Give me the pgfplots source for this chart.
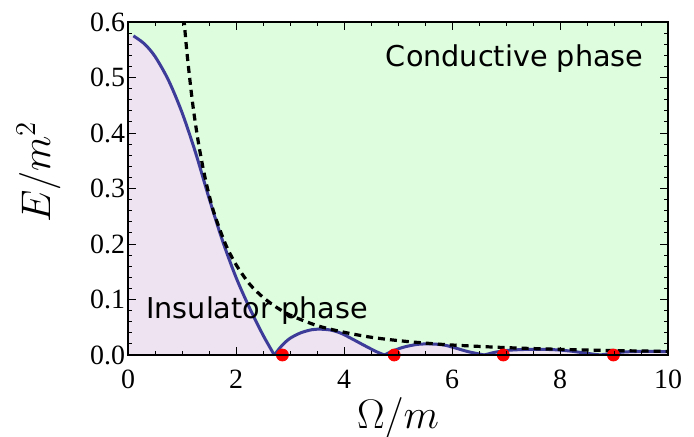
\documentclass[border=0pt]{standalone}
\usepackage{fontspec}
\setmainfont{Liberation Serif}
\newfontfamily\dejavu{DejaVu Sans}
\usepackage{pgfplots}
\pgfplotsset{compat=1.18}
\definecolor{condgreen}{RGB}{222,252,222}
\definecolor{insupink}{RGB}{238,227,240}
\definecolor{curveblue}{RGB}{61,61,153}

\begin{document}
\begin{tikzpicture}
\begin{axis}[
  set layers, axis on top,
  at={(0,0)}, anchor=south west,
  scale only axis, width=270bp, height=166.5bp,
  xmin=0, xmax=10, ymin=0, ymax=0.6,
  xtick={0,2,4,6,8,10}, ytick={0,0.1,0.2,0.3,0.4,0.5,0.6},
  minor x tick num=3, minor y tick num=4,
  tick align=inside, major tick length=4bp, minor tick length=2bp,
  tick style={black, line width=0.5bp},
  axis line style={line width=0.6bp},
  axis background/.style={fill=condgreen},
  /pgf/number format/assume math mode=true,
  ticklabel style={font=\fontsize{14}{14}\selectfont},
  yticklabel style={/pgf/number format/fixed, /pgf/number format/precision=1,
    /pgf/number format/fixed zerofill, xshift=2bp},
  xticklabel style={yshift=-4bp},
  xlabel={$\Omega/m$}, ylabel={$E/m^2$},
  xlabel style={font=\fontsize{20}{20}\selectfont, at={(axis description cs:0.5,-0.222)}, anchor=base},
  ylabel style={font=\fontsize{22}{22}\selectfont, at={(axis description cs:-0.144,0.55)}, anchor=base},
]
% insulator region under the curve
\addplot[draw=none, fill=insupink] coordinates {
  (0,0) (0,0.576) (0.1,0.575) (0.3,0.561) (0.5,0.538) (0.75,0.495) (1.0,0.437)
  (1.25,0.365) (1.5,0.283) (1.75,0.206) (2.0,0.140) (2.25,0.085) (2.5,0.036) (2.71,0)
  (2.85,0.017) (3.0,0.030) (3.2,0.040) (3.4,0.0455) (3.55,0.0465) (3.75,0.045)
  (3.95,0.039) (4.15,0.029) (4.4,0.016) (4.6,0.006) (4.75,0)
  (4.9,0.007) (5.1,0.014) (5.35,0.019) (5.6,0.020) (5.85,0.018) (6.05,0.013) (6.3,0.006) (6.6,0)
  (6.8,0.005) (7.05,0.0085) (7.35,0.010) (7.6,0.0103) (7.9,0.0095) (8.2,0.007) (8.5,0.003) (8.75,0)
  (8.95,0.003) (9.2,0.0055) (9.5,0.0065) (9.75,0.0065) (10,0.006) (10,0)
};
% gap curve
\addplot[curveblue, line width=1.5bp, smooth] coordinates {
  (0.1,0.575) (0.3,0.561) (0.5,0.538) (0.75,0.495) (1.0,0.437) (1.25,0.365)
  (1.5,0.283) (1.75,0.206) (2.0,0.140) (2.25,0.085) (2.5,0.036) (2.71,0)
};
\addplot[curveblue, line width=1.5bp, smooth] coordinates {
  (2.71,0) (2.85,0.017) (3.0,0.030) (3.2,0.040) (3.4,0.0455) (3.55,0.0465) (3.75,0.045)
  (3.95,0.039) (4.15,0.029) (4.4,0.016) (4.6,0.006) (4.75,0)
};
\addplot[curveblue, line width=1.5bp, smooth] coordinates {
  (4.75,0) (4.9,0.007) (5.1,0.014) (5.35,0.019) (5.6,0.020) (5.85,0.018) (6.05,0.013) (6.3,0.006) (6.6,0)
};
\addplot[curveblue, line width=1.5bp, smooth] coordinates {
  (6.6,0) (6.8,0.005) (7.05,0.0085) (7.35,0.010) (7.6,0.0103) (7.9,0.0095) (8.2,0.007) (8.5,0.003) (8.75,0)
};
\addplot[curveblue, line width=1.5bp, smooth] coordinates {
  (8.75,0) (8.95,0.003) (9.2,0.0055) (9.5,0.0065) (9.75,0.0065) (10,0.006)
};
% envelope
\addplot[black, line width=1.6bp, dash pattern=on 3.5bp off 2.5bp, smooth] coordinates {
  (1.0,0.65) (1.04,0.601) (1.1,0.537) (1.2,0.451) (1.3,0.385) (1.4,0.332) (1.5,0.289)
  (1.6,0.254) (1.8,0.201) (2.0,0.163) (2.25,0.128) (2.5,0.104) (2.75,0.086) (3.0,0.072)
  (3.5,0.053) (4.0,0.041) (4.5,0.032) (5.0,0.026) (5.5,0.0215) (6.0,0.018) (7.0,0.0133)
  (8.0,0.0102) (9.0,0.008) (10.0,0.0065)
};
% zeros
\addplot[only marks, mark=*, mark size=3bp, red, on layer=axis foreground] coordinates {
  (2.86,0) (4.93,0) (6.95,0) (8.99,0)
};
\node[anchor=base west, inner sep=0pt, font=\dejavu\fontsize{14.4}{14.4}\selectfont] at (axis cs:4.77,0.52) {Conductive phase};
\node[anchor=base west, inner sep=0pt, font=\dejavu\fontsize{14.4}{14.4}\selectfont] at (axis cs:0.33,0.0666) {Insulator phase};
\end{axis}
\pgfresetboundingbox
\useasboundingbox (-64bp,-41bp) rectangle (283bp,177.5bp);
\end{tikzpicture}
\end{document}
